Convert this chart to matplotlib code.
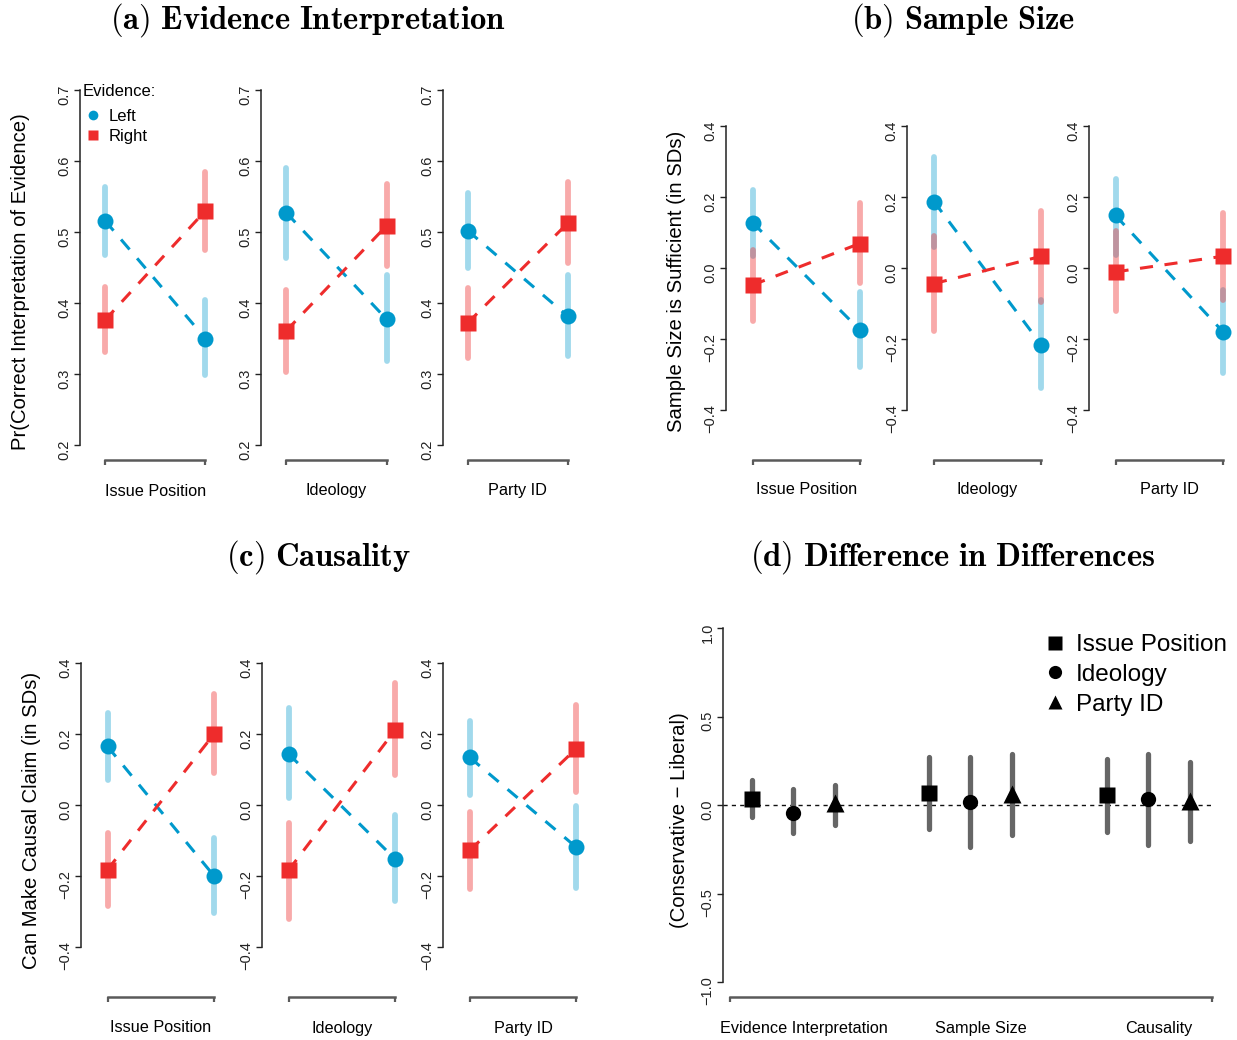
import matplotlib
matplotlib.use("Agg")
import matplotlib.pyplot as plt
from matplotlib.lines import Line2D

plt.rcParams['font.family'] = ['Liberation Sans', 'DejaVu Sans']
plt.rcParams['mathtext.fontset'] = 'cm'

W, H = 1237, 1040
fig = plt.figure(figsize=(W / 100, H / 100), dpi=100)

BLUE = '#0099cc'
RED = '#ee2c2c'
GRAY = '#5a5a5a'

cats = ["Issue Position", "Ideology", "Party ID"]

# (a) Evidence interpretation: [value at x=1, value at x=2] per category
a_left_pt = [[0.516, 0.350], [0.527, 0.377], [0.502, 0.381]]
a_left_lo = [[0.468, 0.299], [0.463, 0.318], [0.449, 0.325]]
a_left_hi = [[0.564, 0.404], [0.590, 0.439], [0.555, 0.440]]
a_right_pt = [[0.376, 0.530], [0.361, 0.509], [0.372, 0.513]]
a_right_lo = [[0.331, 0.474], [0.303, 0.452], [0.323, 0.457]]
a_right_hi = [[0.423, 0.584], [0.418, 0.567], [0.421, 0.570]]

# (b) Sample size
b_left_pt = [[0.128, -0.174], [0.187, -0.216], [0.148, -0.179]]
b_left_lo = [[0.033, -0.278], [0.058, -0.338], [0.037, -0.297]]
b_left_hi = [[0.219, -0.068], [0.313, -0.090], [0.252, -0.062]]
b_right_pt = [[-0.048, 0.069], [-0.044, 0.033], [-0.011, 0.033]]
b_right_lo = [[-0.149, -0.043], [-0.177, -0.097], [-0.120, -0.090]]
b_right_hi = [[0.052, 0.182], [0.090, 0.161], [0.105, 0.154]]

# (c) Causality
c_left_pt = [[0.165, -0.200], [0.144, -0.152], [0.134, -0.119]]
c_left_lo = [[0.071, -0.303], [0.019, -0.271], [0.028, -0.233]]
c_left_hi = [[0.259, -0.094], [0.273, -0.028], [0.238, -0.002]]
c_right_pt = [[-0.182, 0.200], [-0.184, 0.211], [-0.128, 0.159]]
c_right_lo = [[-0.284, 0.089], [-0.320, 0.085], [-0.236, 0.038]]
c_right_hi = [[-0.080, 0.313], [-0.052, 0.344], [-0.019, 0.282]]

# (d) Difference in differences
d_groups = ["Evidence Interpretation", "Sample Size", "Causality"]
d_measures = ["Issue Position", "Ideology", "Party ID"]
d_markers = ['s', 'o', '^']
d_est = [[0.036, 0.066, 0.057], [-0.043, 0.015, 0.032], [0.011, 0.063, 0.022]]
d_lo = [[-0.070, -0.138, -0.155], [-0.160, -0.236, -0.228], [-0.113, -0.172, -0.202]]
d_hi = [[0.142, 0.274, 0.259], [0.089, 0.274, 0.289], [0.115, 0.287, 0.243]]


def add_ax(left, top, width, height):
    return fig.add_axes([left / W, 1 - (top + height) / H, width / W, height / H])


def r_style(ax, yticks, outward_px):
    ax.set_facecolor('none')
    for s in ['top', 'right']:
        ax.spines[s].set_visible(False)
    ax.spines['left'].set_bounds(yticks[0], yticks[-1])
    ax.spines['left'].set_linewidth(1.1)
    ax.spines['left'].set_color('#222222')
    ax.spines['bottom'].set_position(('outward', outward_px * 0.72))
    ax.spines['bottom'].set_color(GRAY)
    ax.spines['bottom'].set_linewidth(1.8)
    ax.set_yticks(yticks)
    ax.set_yticklabels([f"{t:.1f}".replace('-', '\u2212') for t in yticks])
    ax.tick_params(axis='y', labelrotation=90, length=4, width=1.0,
                   labelsize=10.5, colors='#222222', pad=2)
    ax.tick_params(axis='x', length=3.5, width=1.6, color=GRAY, labelbottom=False)


def panel(title, tx, ty, ylabel, ylx, yly, first_pts, spacing, top, height,
          ylim, yticks, outward, label_y,
          lpt, llo, lhi, rpt, rlo, rhi):
    fig.text(tx / W, 1 - ty / H, title, ha='center', va='center', fontsize=23.5)
    fig.text(ylx / W, 1 - yly / H, ylabel, rotation=90, ha='center', va='center',
             fontsize=14.6)
    axes = []
    for i, p1 in enumerate(first_pts):
        ax = add_ax(p1 - 0.25 * spacing, top, 1.5 * spacing, height)
        ax.set_xlim(0.75, 2.25)
        ax.set_ylim(*ylim)
        xs = [1, 2]
        ax.vlines(xs, llo[i], lhi[i], color=BLUE, alpha=0.37, lw=4.2, zorder=1,
                  capstyle='round')
        ax.vlines(xs, rlo[i], rhi[i], color=RED, alpha=0.4, lw=4.2, zorder=1,
                  capstyle='round')
        ax.plot(xs, lpt[i], color=BLUE, lw=2.2, dashes=(4.3, 3.8), zorder=2)
        ax.plot(xs, rpt[i], color=RED, lw=2.2, dashes=(4.3, 3.8), zorder=2)
        ax.plot(xs, lpt[i], 'o', color=BLUE, ms=11.5, mec='none', zorder=3)
        ax.plot(xs, rpt[i], 's', color=RED, ms=11, mec='none', zorder=3)
        r_style(ax, yticks, outward)
        ax.set_xticks(xs)
        ax.spines['bottom'].set_bounds(1, 2)
        ax.text(1.5, -(label_y - top - height) / height, cats[i],
                transform=ax.get_xaxis_transform(), ha='center', va='center',
                fontsize=11.7, clip_on=False)
        axes.append(ax)
    return axes


axa = panel(r'$\mathbf{(a)\ Evidence\ Interpretation}$', 308, 20,
            'Pr(Correct Interpretation of Evidence)', 21, 282,
            [105, 286.3, 467.7], 100.4, 90, 355, (0.2, 0.7),
            [0.2, 0.3, 0.4, 0.5, 0.6, 0.7], 15, 491,
            a_left_pt, a_left_lo, a_left_hi, a_right_pt, a_right_lo, a_right_hi)

panel(r'$\mathbf{(b)\ Sample\ Size}$', 963, 20,
      'Sample Size is Sufficient (in SDs)', 677, 281,
      [752.5, 934, 1115.5], 107.2, 126, 284, (-0.4, 0.4),
      [-0.4, -0.2, 0.0, 0.2, 0.4], 50, 490,
      b_left_pt, b_left_lo, b_left_hi, b_right_pt, b_right_lo, b_right_hi)

panel(r'$\mathbf{(c)\ Causality}$', 318, 557,
      'Can Make Causal Claim (in SDs)', 32, 820,
      [107.5, 288.5, 469.7], 106.6, 663, 284, (-0.4, 0.4),
      [-0.4, -0.2, 0.0, 0.2, 0.4], 50, 1028,
      c_left_pt, c_left_lo, c_left_hi, c_right_pt, c_right_lo, c_right_hi)

# legend for (a)
ev_handles = [Line2D([], [], marker='o', ls='none', color=BLUE, ms=7, mec='none'),
              Line2D([], [], marker='s', ls='none', color=RED, ms=7, mec='none')]
leg = axa[0].legend(ev_handles, ['Left', 'Right'], title='Evidence:', frameon=False,
                    loc='upper left', bbox_to_anchor=(74 / W, 1 - 76 / H),
                    bbox_transform=fig.transFigure, fontsize=12, title_fontsize=12,
                    handletextpad=0.25, handlelength=1.3, labelspacing=0.3,
                    borderpad=0, alignment='left')
leg._legend_box.sep = 7

# (d)
fig.text(953 / W, 1 - 557 / H, r'$\mathbf{(d)\ Difference\ in\ Differences}$',
         ha='center', va='center', fontsize=23.5)
fig.text(680 / W, 1 - 820 / H, '(Conservative \u2212 Liberal)', rotation=90,
         ha='center', va='center', fontsize=14.6)
axd = add_ax(723, 628, 490, 354)
axd.set_xlim(-0.394, 2.366)
axd.set_ylim(-1, 1)
offs = [-0.232, 0.0, 0.236]
axd.axhline(0, color='#111111', lw=1.0, dashes=(3, 3), zorder=1)
for m in range(3):
    xs = [g + offs[m] for g in range(3)]
    axd.vlines(xs, d_lo[m], d_hi[m], color='#666666', lw=3.8, zorder=2,
               capstyle='round')
    axd.plot(xs, d_est[m], d_markers[m], color='black', ms=11 if m != 2 else 12.5,
             mec='none', ls='none', zorder=3, label=d_measures[m])
r_style(axd, [-1.0, -0.5, 0.0, 0.5, 1.0], 15)
axd.set_xticks([-0.355, 2.36])
axd.spines['bottom'].set_bounds(-0.355, 2.36)
for g, name in enumerate(d_groups):
    axd.text(g + 0.06, -(1028 - 982) / 354, name, transform=axd.get_xaxis_transform(),
             ha='center', va='center', fontsize=11.7, clip_on=False)
d_handles = [Line2D([], [], marker=mk, ls='none', color='black', ms=9.5, mec='none')
             for mk in d_markers]
axd.legend(d_handles, d_measures, frameon=False, loc='upper left',
           bbox_to_anchor=(1027 / W, 1 - 622 / H), bbox_transform=fig.transFigure,
           fontsize=17.5, handletextpad=0.2, handlelength=1.3, labelspacing=0.32,
           borderpad=0)

fig.savefig('out.png', dpi=100)
